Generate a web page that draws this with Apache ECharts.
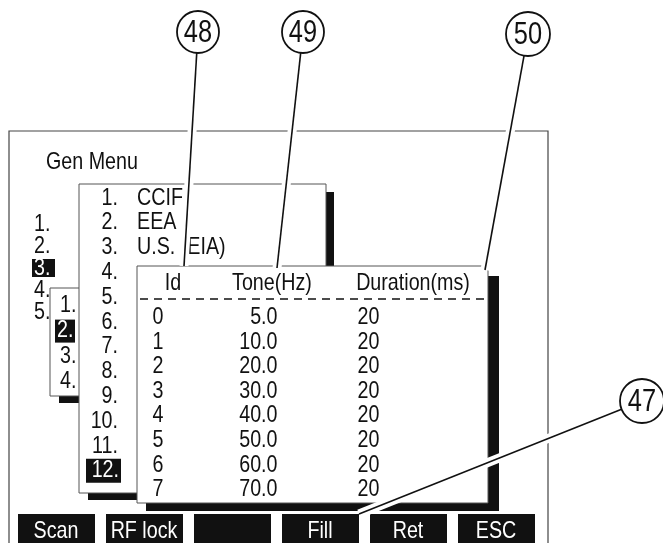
<!DOCTYPE html>
<html>
<head>
<meta charset="utf-8">
<script src="https://cdn.jsdelivr.net/npm/echarts@6/dist/echarts.min.js"></script>
<style>
  html, body { margin: 0; padding: 0; background: #fff; }
  #screen { width: 663px; height: 543px; }
</style>
</head>
<body>
<div id="screen"></div>
<script>
// menu contents
const genMenuItems = ['1.', '2.', '3.', '4.', '5.'];
const genMenuSelected = 2;
const subMenuItems = ['1.', '2.', '3.', '4.'];
const subMenuSelected = 1;
const standardNums = ['1.', '2.', '3.', '4.', '5.', '6.', '7.', '8.', '9.', '10.', '11.', '12.'];
const standardNames = ['CCIF', 'EEA', 'U.S. (EIA)', '', '', '', '', '', '', '', '', ''];
const standardSelected = 11;

// tone table
const tableHeaders = ['Id', 'Tone(Hz)', 'Duration(ms)'];
const toneIds = [0, 1, 2, 3, 4, 5, 6, 7];
const toneHz = [5.0, 10.0, 20.0, 30.0, 40.0, 50.0, 60.0, 70.0];
const durationMs = [20, 20, 20, 20, 20, 20, 20, 20];

// soft keys + callouts
const softKeys = ['Scan', 'RF lock', '', 'Fill', 'Ret', 'ESC'];
const calloutNums = ['48', '49', '50', '47'];

var FONT = '"Liberation Sans", Arial, sans-serif';
var FS = 24;
var SQ = 0.82; // squeeze to get the narrow look of the screen font
var INK = '#111';

var chart = echarts.init(document.getElementById('screen'));
var g = [];

function txt(x, y, s, opt) {
  opt = opt || {};
  g.push({
    type: 'text', x: x, y: y, z: opt.z || 10, scaleX: SQ,
    style: {
      text: s, x: 0, y: 0, fill: opt.fill || INK, font: (opt.size || FS) + 'px ' + FONT,
      align: opt.align || 'left', verticalAlign: 'middle'
    }
  });
}
function box(x, y, w, h, opt) {
  opt = opt || {};
  g.push({
    type: 'rect', z: opt.z || 5,
    shape: { x: x, y: y, width: w, height: h },
    style: { fill: opt.fill || '#fff', stroke: opt.stroke || null, lineWidth: opt.lw || 1 }
  });
}

// outer screen frame
box(9, 131, 539, 430, { fill: '#fff', stroke: '#444', lw: 1.2, z: 1 });
txt(46, 162, 'Gen Menu', { z: 2 });

// main gen menu
genMenuItems.forEach(function (s, i) {
  var y = 224 + i * 22;
  if (i === genMenuSelected) {
    box(32, y - 9, 23, 18, { fill: INK, z: 2 });
    txt(34, y, s, { fill: '#fff', z: 3 });
  } else {
    txt(34, y, s, { z: 2 });
  }
});

// first sub menu
box(59, 295, 40, 108, { fill: INK, z: 4 });
box(50, 288, 40, 108, { fill: '#fff', stroke: '#555', z: 4 });
subMenuItems.forEach(function (s, i) {
  var y = 305 + i * 25.6;
  if (i === subMenuSelected) {
    box(55, y - 11, 20, 23, { fill: INK, z: 5 });
    txt(57, y, s, { fill: '#fff', z: 6 });
  } else {
    txt(60, y, s, { z: 5 });
  }
});

// standards list
box(88, 192, 246, 308, { fill: INK, z: 6 });
box(79, 184, 247, 309, { fill: '#fff', stroke: '#555', z: 6 });
standardNums.forEach(function (s, i) {
  var y = 198 + i * 24.8;
  if (i === standardSelected) {
    box(86, y - 12, 35, 24, { fill: INK, z: 7 });
    txt(119, y, s, { fill: '#fff', align: 'right', z: 8 });
  } else {
    txt(118, y, s, { align: 'right', z: 7 });
  }
  if (standardNames[i]) txt(137, y, standardNames[i], { z: 7 });
});

// tone table frame
box(146, 276, 353, 235, { fill: INK, z: 8 });
box(137, 266, 351, 237, { fill: '#fff', stroke: '#555', z: 8 });
var headX = [173, 272, 413];
tableHeaders.forEach(function (s, i) {
  txt(headX[i], 283, s, { align: 'center', z: 9 });
});
g.push({
  type: 'line', z: 9,
  shape: { x1: 140, y1: 299, x2: 487, y2: 299 },
  style: { stroke: INK, lineWidth: 1.5, lineDash: [8, 6] }
});

// soft keys
softKeys.forEach(function (s, i) {
  var x = 18 + i * 88;
  box(x, 514, 77, 34, { fill: INK, z: 9 });
  if (s) txt(x + 38, 531, s, { fill: '#fff', align: 'center', z: 10 });
});

// callouts: circle centre, radius, leader end point
var calloutLayout = [
  { cx: 198, cy: 32, r: 21, ex: 184, ey: 266 },
  { cx: 303, cy: 32, r: 21, ex: 277, ey: 268 },
  { cx: 528, cy: 34, r: 22, ex: 485, ey: 270 },
  { cx: 642, cy: 401, r: 22, ex: 359, ey: 514 }
];
calloutNums.forEach(function (s, i) {
  var c = calloutLayout[i];
  var dx = c.ex - c.cx, dy = c.ey - c.cy, d = Math.sqrt(dx * dx + dy * dy);
  var sx = c.cx + dx / d * c.r, sy = c.cy + dy / d * c.r;
  g.push({
    type: 'line', z: 20,
    shape: { x1: sx, y1: sy, x2: c.ex, y2: c.ey },
    style: { stroke: '#fff', lineWidth: 9 }
  });
  g.push({
    type: 'line', z: 21,
    shape: { x1: sx, y1: sy, x2: c.ex, y2: c.ey },
    style: { stroke: INK, lineWidth: 1.6 }
  });
  g.push({
    type: 'circle', z: 22,
    shape: { cx: c.cx, cy: c.cy, r: c.r },
    style: { fill: '#fff', stroke: INK, lineWidth: 1.8 }
  });
  txt(c.cx, c.cy + 1, s, { size: 31, align: 'center', z: 23 });
});

// table cells: [column, row]
var cells = [];
toneIds.forEach(function (id, i) {
  cells.push([0, i], [1, i], [2, i]);
});
var colAlign = ['left', 'right', 'left'];
var colShift = [-43, -35, -72];
function cellText(c, r) {
  if (c === 0) return String(toneIds[r]);
  if (c === 1) return toneHz[r].toFixed(1);
  return String(durationMs[r]);
}

var option = {
  animation: false,
  backgroundColor: '#fff',
  grid: { left: 137, top: 305, width: 351, height: 197 },
  xAxis: { type: 'category', data: tableHeaders, show: false },
  yAxis: { type: 'category', data: toneIds.map(String), inverse: true, show: false },
  graphic: g,
  series: [{
    type: 'custom',
    z: 10,
    data: cells,
    renderItem: function (params, api) {
      var c = api.value(0), r = api.value(1);
      var p = api.coord([c, r]);
      return {
        type: 'text',
        x: p[0] + colShift[c],
        y: p[1],
        scaleX: SQ,
        style: {
          text: cellText(c, r), x: 0, y: 0,
          fill: INK, font: FS + 'px ' + FONT,
          align: colAlign[c], verticalAlign: 'middle'
        }
      };
    }
  }]
};

chart.setOption(option);
</script>
</body>
</html>
